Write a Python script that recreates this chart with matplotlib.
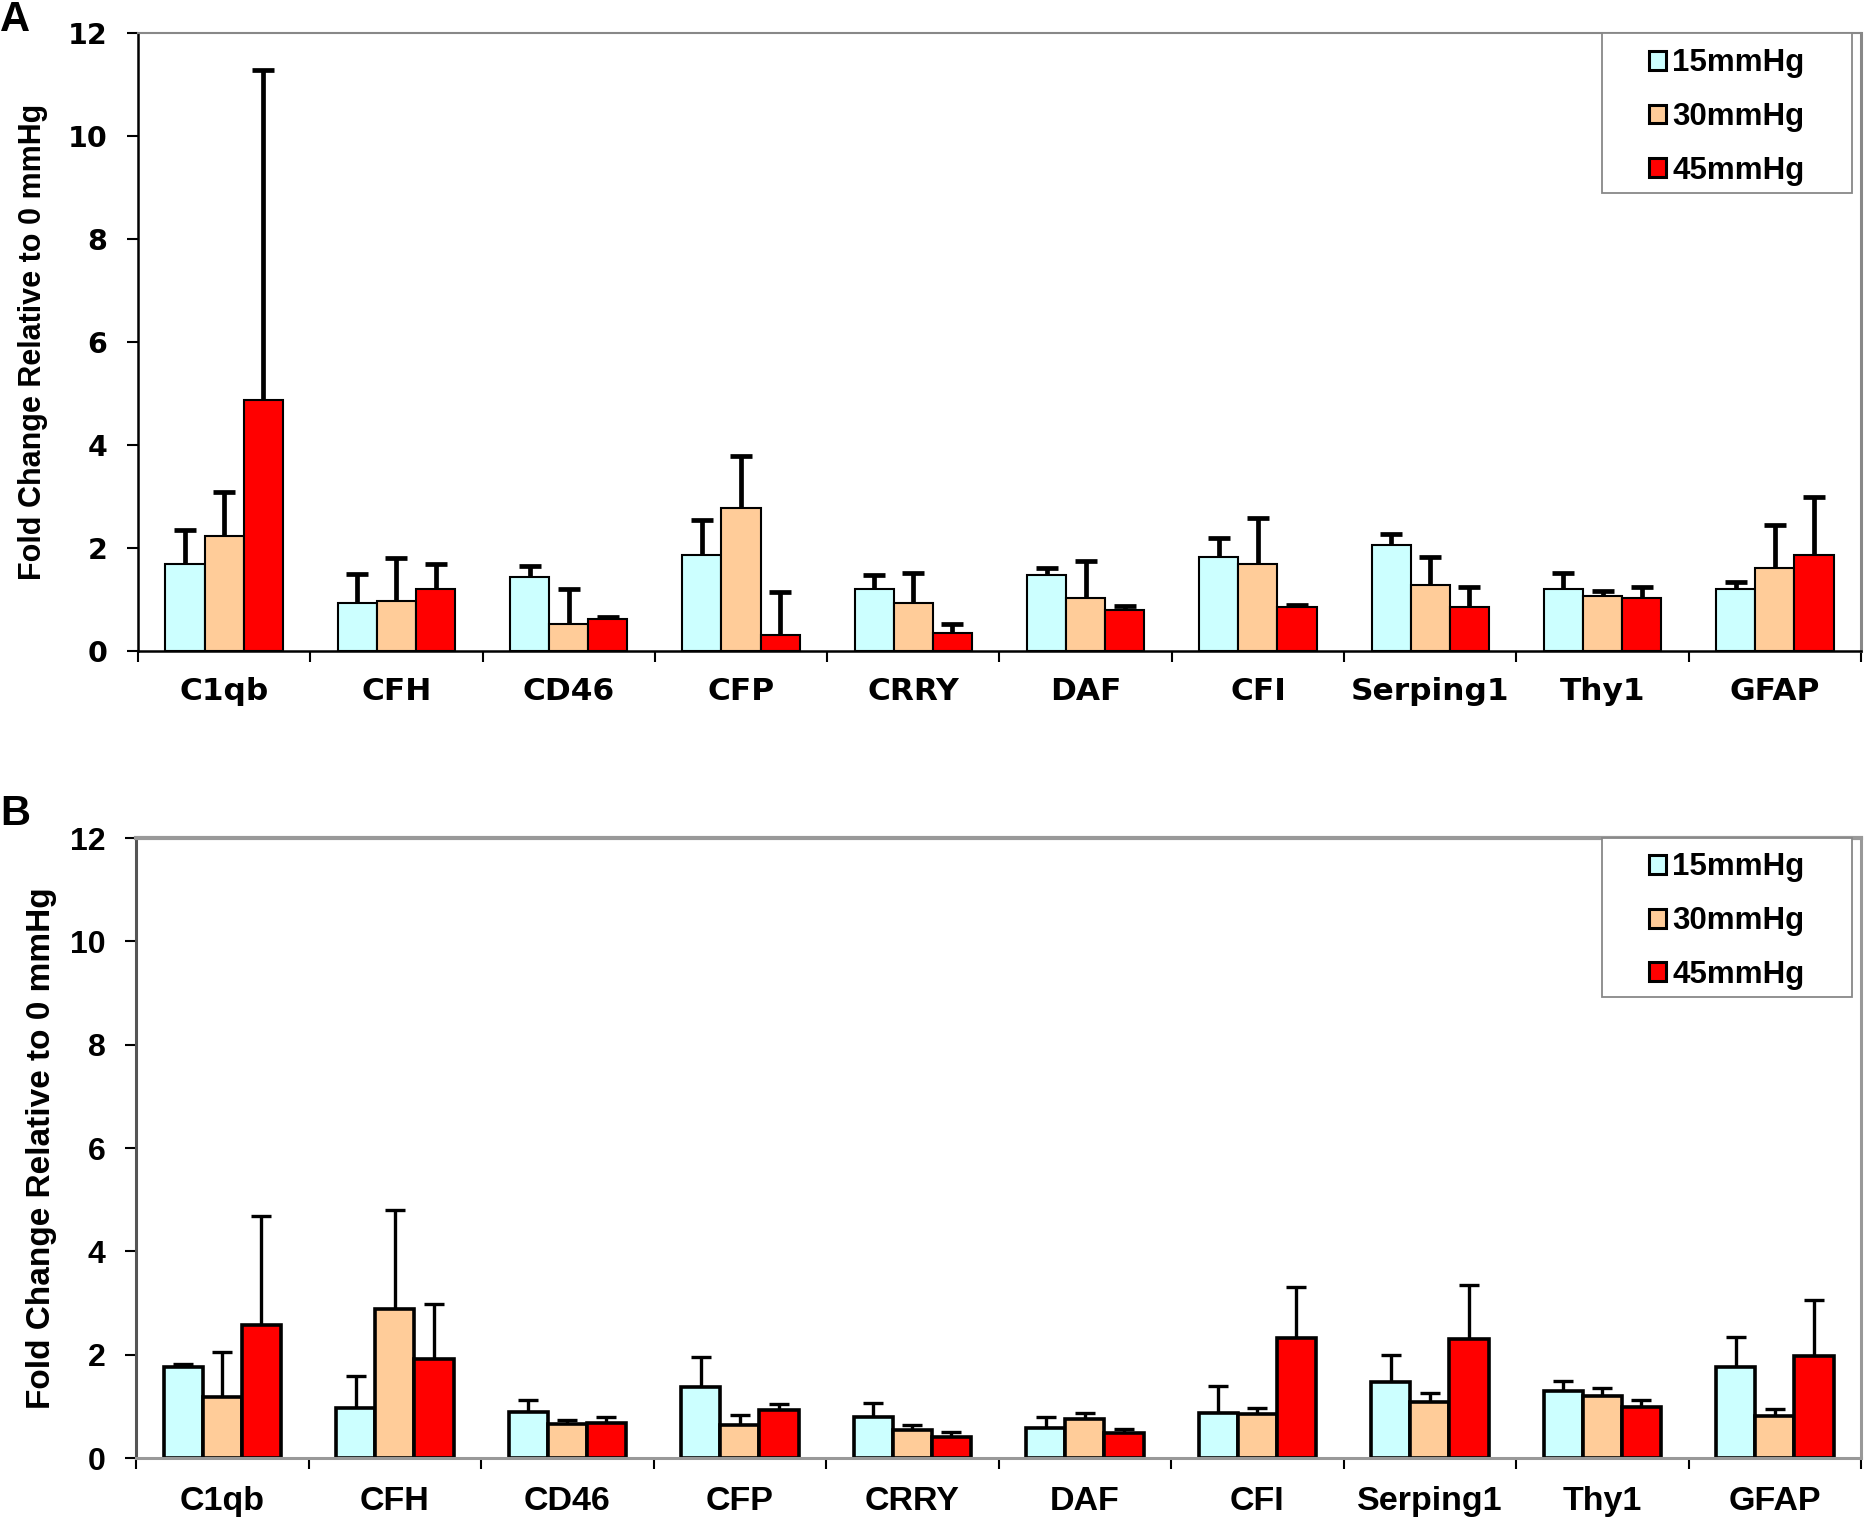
import numpy as np
import matplotlib
matplotlib.use('Agg')
import matplotlib.pyplot as plt
from matplotlib.patches import Patch, Rectangle

genes = ['C1qb', 'CFH', 'CD46', 'CFP', 'CRRY', 'DAF', 'CFI', 'Serping1', 'Thy1', 'GFAP']
groups = ['15mmHg', '30mmHg', '45mmHg']
colors = ['#CCFFFF', '#FFCC99', '#FF0000']

# panel A
a_15 = [1.70, 0.94, 1.43, 1.87, 1.20, 1.47, 1.83, 2.05, 1.20, 1.20]
a_15_err = [0.66, 0.56, 0.22, 0.67, 0.27, 0.14, 0.36, 0.22, 0.32, 0.14]
a_30 = [2.24, 0.98, 0.535, 2.77, 0.94, 1.03, 1.70, 1.29, 1.07, 1.61]
a_30_err = [0.84, 0.83, 0.665, 1.02, 0.58, 0.71, 0.89, 0.54, 0.09, 0.84]
a_45 = [4.88, 1.20, 0.62, 0.31, 0.36, 0.80, 0.85, 0.85, 1.03, 1.87]
a_45_err = [6.41, 0.49, 0.05, 0.83, 0.16, 0.07, 0.04, 0.40, 0.22, 1.12]

# panel B
b_15 = [1.77, 0.96, 0.89, 1.38, 0.79, 0.58, 0.88, 1.47, 1.29, 1.77]
b_15_err = [0.05, 0.62, 0.23, 0.57, 0.27, 0.21, 0.52, 0.52, 0.21, 0.57]
b_30 = [1.18, 2.88, 0.66, 0.63, 0.54, 0.75, 0.86, 1.08, 1.20, 0.82]
b_30_err = [0.87, 1.92, 0.07, 0.21, 0.10, 0.13, 0.11, 0.18, 0.16, 0.13]
b_45 = [2.58, 1.91, 0.68, 0.93, 0.40, 0.49, 2.32, 2.31, 0.99, 1.97]
b_45_err = [2.11, 1.08, 0.11, 0.11, 0.10, 0.07, 0.99, 1.03, 0.14, 1.08]

yticks = [0, 2, 4, 6, 8, 10, 12]
ylabel = 'Fold Change Relative to 0 mmHg'

LIB = 'Liberation Sans'
DEJ = 'DejaVu Sans'


def panel(ax, series, errs, tick_font, xfs, yfs, ylab_fs, edge_lw, err_lw, cap, style):
    n = len(genes)
    centers = np.arange(n) + 0.5
    w = 0.227
    for k, (vals, err) in enumerate(zip(series, errs)):
        x = centers + (k - 1) * w
        ax.bar(x, vals, width=w, color=colors[k], edgecolor='black',
               linewidth=edge_lw, zorder=2)
        eb = ax.errorbar(x, vals, yerr=[np.zeros(n), err], fmt='none',
                         ecolor='black', elinewidth=err_lw, capsize=cap,
                         capthick=err_lw, zorder=3)
        eb[1][0].set_visible(False)  # only the upper cap

    ax.set_xlim(0, n)
    ax.set_ylim(0, 12)
    ax.set_yticks(yticks)
    ax.set_yticklabels([str(t) for t in yticks], family=tick_font,
                       fontweight='bold', fontsize=yfs)
    ax.set_xticks(centers)
    ax.set_xticklabels(genes, family=tick_font, fontweight='bold', fontsize=xfs)
    ax.set_xticks(np.arange(n + 1), minor=True)
    ax.tick_params(axis='x', which='major', length=0, pad=style['xpad'])
    ax.tick_params(axis='x', which='minor', length=8, width=1.5, direction='out')
    ax.tick_params(axis='y', length=8, width=1.5, direction='out', pad=14)

    ax.set_ylabel(ylabel, family=LIB, fontweight='bold', fontsize=ylab_fs, va='center')
    ax.yaxis.set_label_coords(style['ylab_x'], 0.5)

    for side, (c, lw) in style['spines'].items():
        ax.spines[side].set_color(c)
        ax.spines[side].set_linewidth(lw)

    # legend box
    ax.add_patch(Rectangle((0.8497, 1 - style['leg_h']), 0.1451, style['leg_h'],
                           transform=ax.transAxes, facecolor='white',
                           edgecolor='#888888', linewidth=1.3, zorder=4,
                           clip_on=False))
    handles = [Patch(facecolor=c, edgecolor='black', linewidth=2.2) for c in colors]
    ax.legend(handles, groups, loc='center', bbox_to_anchor=(0.922, style['leg_y']),
              frameon=False, prop={'family': LIB, 'weight': 'bold', 'size': 22.5},
              handlelength=0.55, handleheight=0.55, handletextpad=0.2,
              labelspacing=0.76, borderpad=0)


fig = plt.figure(figsize=(18.64, 15.18), dpi=100)
ax_a = fig.add_axes([0.0740, 0.5711, 0.9244, 0.4071])
ax_b = fig.add_axes([0.0730, 0.0395, 0.9254, 0.4084])

panel(ax_a, [a_15, a_30, a_45], [a_15_err, a_30_err, a_45_err], DEJ, 22.5, 20.5, 22,
      1.5, 3.4, 8,
      {'ylab_x': -0.061, 'leg_h': 0.259, 'leg_y': 0.864, 'xpad': 19,
       'spines': {'left': ('black', 1.8), 'bottom': ('black', 1.8),
                  'top': ('#888888', 1.5), 'right': ('#888888', 2.2)}})
panel(ax_b, [b_15, b_30, b_45], [b_15_err, b_30_err, b_45_err], LIB, 24.5, 23, 24,
      2.6, 2.4, 7.5,
      {'ylab_x': -0.055, 'leg_h': 0.256, 'leg_y': 0.866, 'xpad': 20,
       'spines': {'left': ('#555555', 2.2), 'bottom': ('#999999', 2.2),
                  'top': ('#999999', 3.0), 'right': ('#999999', 2.2)}})

fig.text(0.0, 1.0, 'A', family=LIB, fontweight='bold', fontsize=30, ha='left', va='top')
fig.text(0.0, 0.477, 'B', family=LIB, fontweight='bold', fontsize=30, ha='left', va='top')

fig.savefig('out.png', dpi=100)
